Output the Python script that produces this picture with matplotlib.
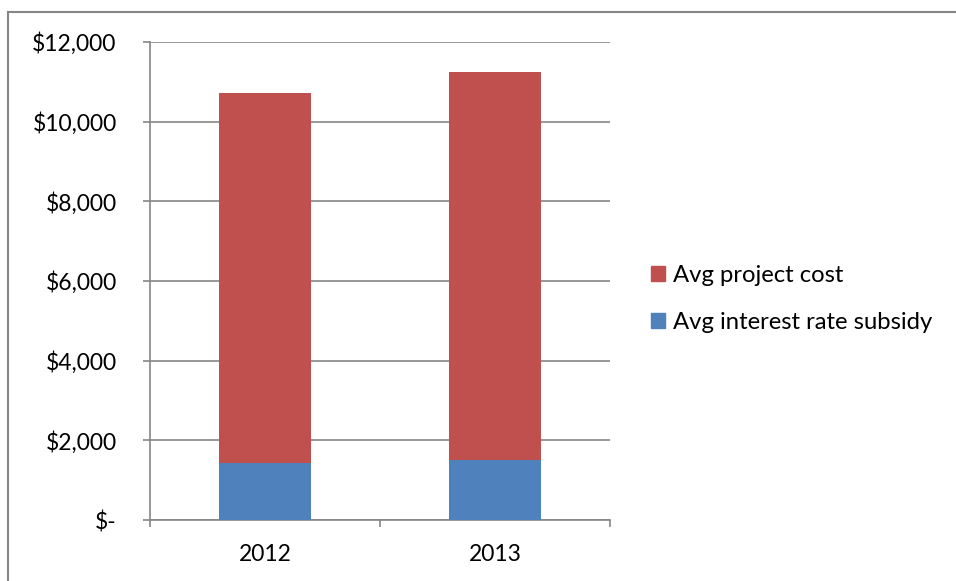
import matplotlib
matplotlib.use("Agg")
import matplotlib.pyplot as plt
from matplotlib.patches import Rectangle
from matplotlib.lines import Line2D
import numpy as np

years = ["2012", "2013"]
interest_subsidy = [1420, 1500]
project_cost = [9300, 9750]

RED = "#C0504D"
BLUE = "#4F81BD"
GRID = "#868686"

plt.rcParams["font.family"] = ["Lato", "DejaVu Sans"]

W, H = 956, 581
fig = plt.figure(figsize=(W / 100, H / 100), dpi=100)

# chart frame (top and left edges visible)
fig.add_artist(Line2D([8 / W, 8 / W], [0, 1 - 12 / H], color=GRID, lw=1.5))
fig.add_artist(Line2D([8 / W, 1], [1 - 12 / H, 1 - 12 / H], color=GRID, lw=1.5))

ax = fig.add_axes([150 / W, 1 - 520 / H, 460 / W, 478 / H])
x = np.arange(len(years))
ax.bar(x, interest_subsidy, width=0.4, color=BLUE, label="Avg interest rate subsidy", zorder=3)
ax.bar(x, project_cost, width=0.4, bottom=interest_subsidy, color=RED,
       label="Avg project cost", zorder=3)

ax.set_xlim(-0.5, 1.5)
ax.set_ylim(0, 12000)
ax.set_yticks(range(0, 12001, 2000))
ax.set_yticklabels(["$-"] + [f"${v:,}" for v in range(2000, 12001, 2000)])
ax.yaxis.grid(True, color=GRID, lw=1.2, zorder=0)
ax.set_xticks(x)
ax.set_xticklabels(years)
ax.set_xticks([-0.5, 0.5, 1.5], minor=True)
ax.tick_params(axis="x", which="major", length=0, pad=17, labelsize=16.5)
ax.tick_params(axis="x", which="minor", length=5, color=GRID, width=1.2)
ax.tick_params(axis="y", length=5, color=GRID, width=1.2, pad=19, labelsize=16.5)
for lbl in ax.get_yticklabels():
    lbl.set_horizontalalignment("right")
for side in ["top", "right"]:
    ax.spines[side].set_visible(False)
for side in ["left", "bottom"]:
    ax.spines[side].set_color(GRID)
    ax.spines[side].set_linewidth(1.2)

# legend: project cost listed first
handles = [Rectangle((0, 0), 1, 1, color=RED), Rectangle((0, 0), 1, 1, color=BLUE)]
fig.legend(handles, ["Avg project cost", "Avg interest rate subsidy"],
           loc="center left", bbox_to_anchor=(641 / W, 1 - 299 / H),
           frameon=False, fontsize=17.2, handlelength=0.6, handleheight=0.6,
           handletextpad=0.35, labelspacing=1.1, borderaxespad=0)

fig.savefig("out.png", dpi=100)
